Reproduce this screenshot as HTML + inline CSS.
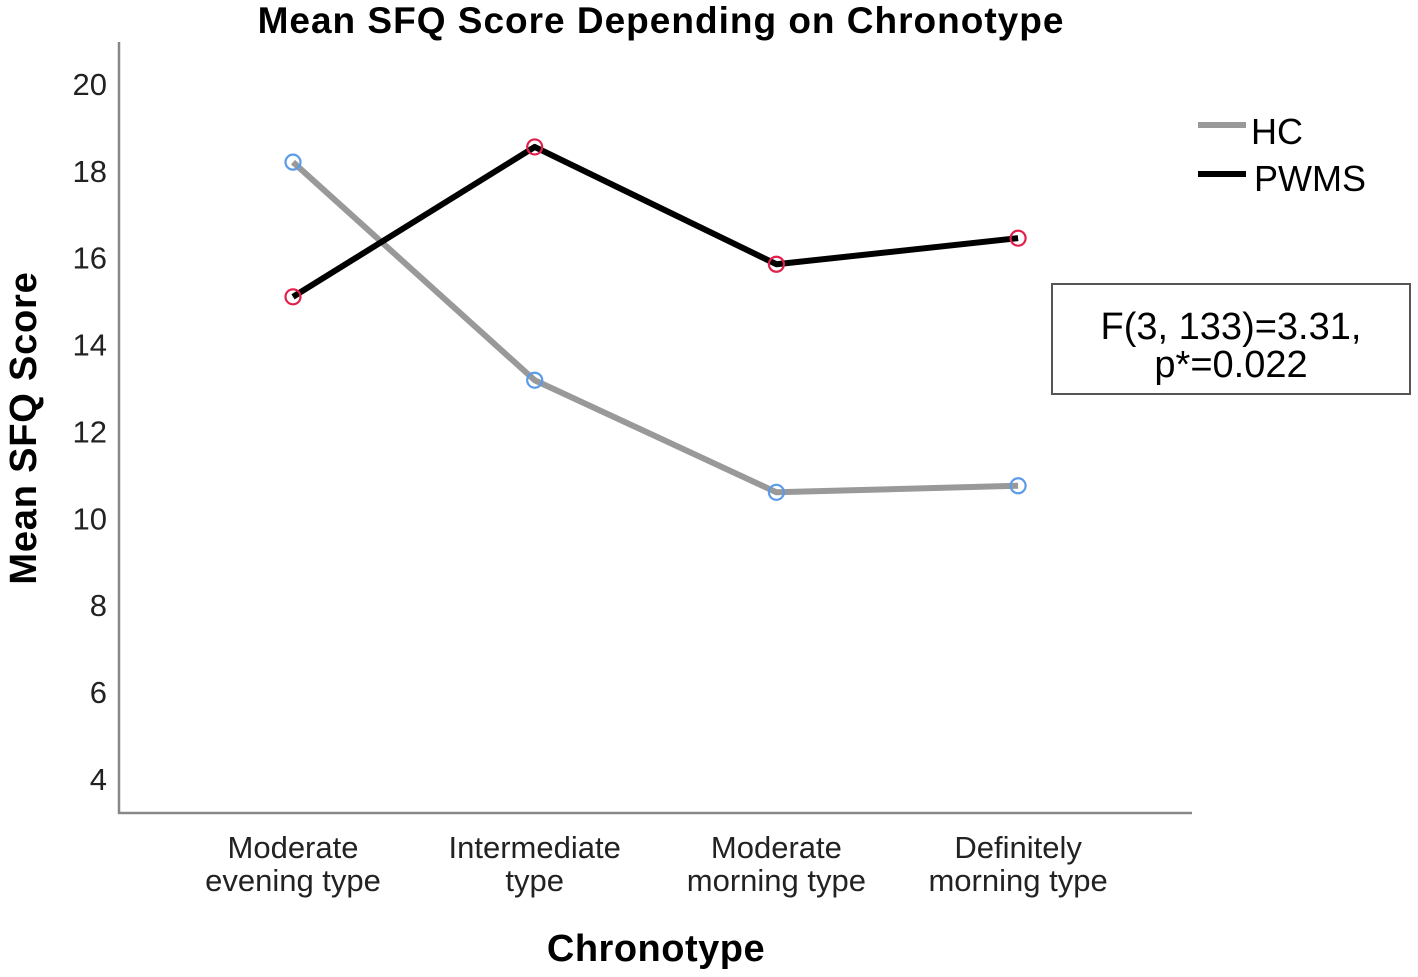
<!DOCTYPE html>
<html><head><meta charset="utf-8"><style>
html,body{margin:0;padding:0;background:#fff;}
svg{display:block;font-family:"Liberation Sans",Arial,sans-serif;}
</style></head><body>
<svg id="chart" width="1418" height="977" viewBox="0 0 1418 977">
<text x="661" y="33" text-anchor="middle" font-size="37" font-weight="bold" letter-spacing="1" fill="#000">Mean SFQ Score Depending on Chronotype</text>
<line x1="119" y1="42" x2="119" y2="814" stroke="#888" stroke-width="2.5"/>
<line x1="118" y1="813" x2="1192" y2="813" stroke="#888" stroke-width="2.5"/>
<text transform="translate(36,428) rotate(-90)" text-anchor="middle" font-size="38" font-weight="bold" letter-spacing="0.8">Mean SFQ Score</text>
<text x="656" y="961" text-anchor="middle" font-size="38" font-weight="bold" letter-spacing="0.5">Chronotype</text>
<g id="yticks"></g><g id="xticks"></g><g id="series"></g>
<g>
<line x1="1198" y1="125" x2="1246" y2="125" stroke="#999" stroke-width="6"/>
<text x="1251" y="144" font-size="36">HC</text>
<line x1="1198" y1="174" x2="1246" y2="174" stroke="#000" stroke-width="6"/>
<text x="1254" y="191" font-size="36">PWMS</text>
</g>
<g>
<rect x="1052" y="284" width="358" height="110" fill="#fff" stroke="#555" stroke-width="2"/>
<text x="1231" y="339" text-anchor="middle" font-size="38">F(3, 133)=3.31,</text>
<text x="1231" y="377" text-anchor="middle" font-size="38">p*=0.022</text>
</g>
</svg>
<script>
const categories1 = ["Moderate","Intermediate","Moderate","Definitely"];
const categories2 = ["evening type","type","morning type","morning type"];
const hcValues = [18.2, 13.18, 10.6, 10.75];
const pwmsValues = [15.1, 18.55, 15.85, 16.45];
const yTicks = [4,6,8,10,12,14,16,18,20];
const NS="http://www.w3.org/2000/svg";
function y(v){return 779-(v-4)*43.44;}
function x(i){return 293+i*241.7;}
function mk(tag,attrs,parent){const e=document.createElementNS(NS,tag);for(const k in attrs)e.setAttribute(k,attrs[k]);parent.appendChild(e);return e;}
const yt=document.getElementById('yticks');
yTicks.forEach(t=>{const e=mk('text',{x:107,y:y(t)+11,'text-anchor':'end','font-size':'31',fill:'#222'},yt);e.textContent=t;

});
const xt=document.getElementById('xticks');
categories1.forEach((c,i)=>{const e=mk('text',{x:x(i),y:858,'text-anchor':'middle','font-size':'31',fill:'#222'},xt);e.textContent=c;


const e2=mk('text',{x:x(i),y:891,'text-anchor':'middle','font-size':'31',fill:'#222'},xt);e2.textContent=categories2[i];

});
const sg=document.getElementById('series');
function series(vals,col,mcol,name){
const p=mk('polyline',{points:vals.map((v,i)=>x(i)+','+y(v)).join(' '),fill:'none',stroke:col,'stroke-width':6,'stroke-linejoin':'round'},sg);


vals.forEach((v,i)=>{const c=mk('circle',{cx:x(i),cy:y(v),r:7.5,fill:'none',stroke:mcol,'stroke-width':2.2},sg);

});
}
series(hcValues,'#999','#5b9be8','hc');
series(pwmsValues,'#000','#e0204a','pwms');
</script>
</body></html>
